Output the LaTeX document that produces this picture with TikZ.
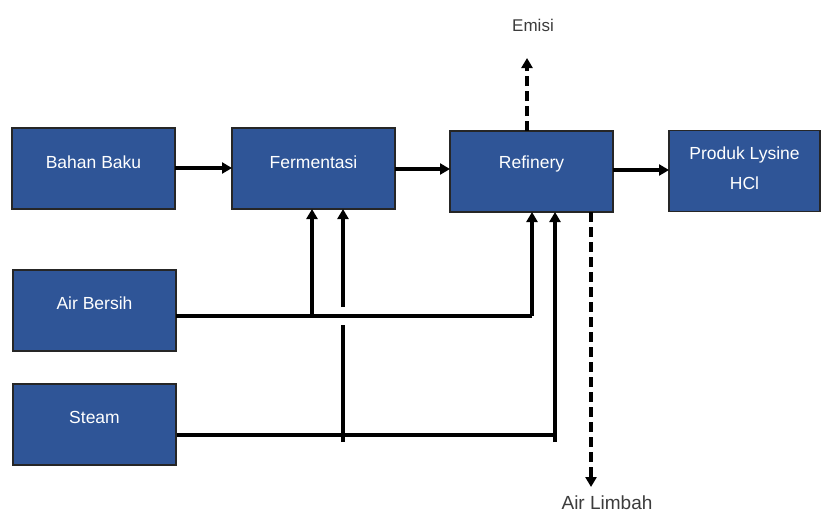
\documentclass[tikz,border=0pt]{standalone}
\usepackage{fontspec}
\setmainfont{Liberation Sans}
\usetikzlibrary{arrows.meta}
\definecolor{boxblue}{RGB}{47,85,151}
\definecolor{labgray}{RGB}{60,60,60}
\begin{document}
\begin{tikzpicture}[x=1pt,y=-1pt,
  blk/.style={draw=black!85,line width=1.5pt,fill=boxblue,minimum width=163pt,minimum height=81pt,inner sep=0pt,outer sep=0pt},
  blktxt/.style={text=white,font=\fontsize{17.5}{30}\selectfont,align=center},
  flow/.style={line width=3.2pt,-{Triangle[length=10pt,width=11pt]}},
  pipe/.style={line width=3.2pt},
  dflow/.style={line width=3.2pt,dash pattern=on 10pt off 5pt,-{Triangle[length=10pt,width=11pt]}},
  outl/.style={text=labgray,font=\fontsize{17}{20}\selectfont}]
\useasboundingbox (0,0) rectangle (821,514);
\node[blk] (bahan) at (93.5,168.5) {};
\node[blk] (ferm) at (313.5,168.5) {};
\node[blk] (ref) at (531.5,171.5) {};
\node[blk,minimum width=151pt] (prod) at (744.5,171) {};
\node[blk] (air) at (94.5,310.5) {};
\node[blk] (steam) at (94.5,424.5) {};
\node[blktxt] (tbahan) at (93.5,162) {Bahan Baku};
\node[blktxt] (tferm) at (313.5,162) {Fermentasi};
\node[blktxt] (tref) at (531.5,164) {Refinery};
\node[blktxt] (tprod) at (744.5,168) {Produk Lysine\\HCl};
\node[blktxt] (tair) at (94.5,303) {Air Bersih};
\node[blktxt] (tsteam) at (94.5,417) {Steam};
\node[outl] (emisi) at (533,25) {Emisi};
\node[outl,font=\fontsize{19}{22}\selectfont] (limbah) at (607,503) {Air Limbah};
% main line
\draw[flow] ([yshift=0.5pt]bahan.east) -- ([yshift=0.5pt]bahan.east -| ferm.west);
\draw[flow] ([yshift=2.5pt]ref.west -| ferm.east) -- ([yshift=2.5pt]ref.west);
\draw[flow] ([yshift=1.5pt]ref.east) -- ([yshift=1.5pt]ref.east -| prod.west);
% clean water
\coordinate (a0) at (176,316);
\coordinate (a1) at (312,316);
\coordinate (a2) at (532,316);
\draw[pipe] (a0) -- (a2);
\draw[flow] (a2) -- (a2 |- ref.south);
\draw[flow] (a1) -- (a1 |- ferm.south);
% steam
\coordinate (s0) at (177,435);
\coordinate (s1) at (343,442);
\coordinate (s1g) at (343,325);
\coordinate (s1h) at (343,307);
\coordinate (s2) at (555,442);
\coordinate (s2m) at (555,435);
\draw[pipe] (s0) -- (s2m);
\draw[pipe] (s1) -- (s1g);
\draw[flow] (s1h) -- (s1h |- ferm.south);
\draw[flow] (s2) -- (s2 |- ref.south);
% emissions and waste water
\coordinate (e1) at (527,58);
\draw[dflow] (e1 |- ref.north) -- (e1);
\coordinate (w1) at (591,487);
\draw[dflow] (w1 |- ref.south) -- (w1);
\end{tikzpicture}
\end{document}
